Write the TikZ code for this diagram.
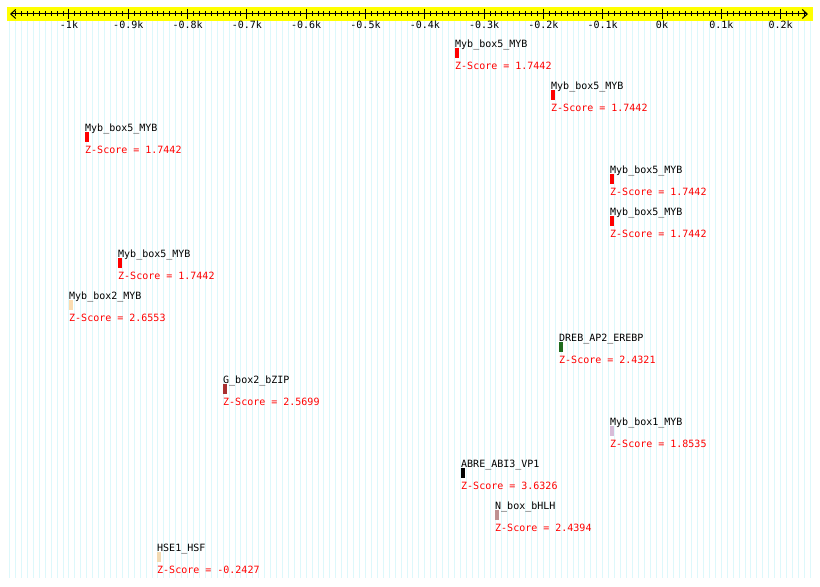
\documentclass[tikz,border=0pt]{standalone}
\usepackage{fontspec}
\setmonofont{DejaVu Sans Mono}
\usetikzlibrary{arrows.meta}
\definecolor{gridc}{HTML}{DDF8FB}
\definecolor{axisyellow}{HTML}{FFFF00}
\definecolor{zred}{HTML}{FF0000}
\definecolor{cMybfive}{HTML}{FF0000}
\definecolor{cMybtwo}{HTML}{FCDCB0}
\definecolor{cDREB}{HTML}{1E6B1E}
\definecolor{cGbox}{HTML}{A83030}
\definecolor{cMybone}{HTML}{D8BCD8}
\definecolor{cABRE}{HTML}{000000}
\definecolor{cNbox}{HTML}{C09090}
\definecolor{cHSE}{HTML}{F2DAB2}
\begin{document}
\begin{tikzpicture}[x=1bp,y=-1bp,
  txt/.style={inner sep=0pt, font=\ttfamily\fontsize{10bp}{12bp}\selectfont},
  lbl/.style={txt, anchor=base west},
  barbox/.style={inner sep=0pt, minimum width=4bp, minimum height=10bp, anchor=north west, draw=none},
  tickline/.style={line width=1bp, black}]
\useasboundingbox (0,0) rectangle (820,587);
\fill[white] (0,0) rectangle (820,587);
% background grid lines
\foreach \p in {-1100,-1090,...,250}
  \draw[gridc, line width=1bp] ({662+0.593*\p},21) -- ({662+0.593*\p},578);
% axis band
\fill[axisyellow] (7,7) rectangle (813,21);
\coordinate (al) at (10,14);
\coordinate (ar) at (808,14);
\draw[line width=1bp, {Straight Barb[length=5bp,width=9bp]}-{Straight Barb[length=5bp,width=9bp]}] (al) -- (ar);
\foreach \p in {-1090,-1080,...,240}
  \draw[tickline] ({662+0.593*\p},11.5) -- ({662+0.593*\p},16.5);
\foreach \p/\t in {-1000/-1k,-900/-0.9k,-800/-0.8k,-700/-0.7k,-600/-0.6k,-500/-0.5k,-400/-0.4k,-300/-0.3k,-200/-0.2k,-100/-0.1k,0/0k,100/0.1k,200/0.2k}{
  \draw[tickline] ({662+0.593*\p},9) -- ({662+0.593*\p},19);
  \node[txt, anchor=base] (t\p) at ({662+0.593*\p},28.5) {\t};
}
% motifs
\foreach [count=\i from 0] \xx/\nm/\cc/\zs in {
  455/Myb\_box5\_MYB/cMybfive/1.7442,
  551/Myb\_box5\_MYB/cMybfive/1.7442,
  85/Myb\_box5\_MYB/cMybfive/1.7442,
  610/Myb\_box5\_MYB/cMybfive/1.7442,
  610/Myb\_box5\_MYB/cMybfive/1.7442,
  118/Myb\_box5\_MYB/cMybfive/1.7442,
  69/Myb\_box2\_MYB/cMybtwo/2.6553,
  559/DREB\_AP2\_EREBP/cDREB/2.4321,
  223/G\_box2\_bZIP/cGbox/2.5699,
  610/Myb\_box1\_MYB/cMybone/1.8535,
  461/ABRE\_ABI3\_VP1/cABRE/3.6326,
  495/N\_box\_bHLH/cNbox/2.4394,
  157/HSE1\_HSF/cHSE/-0.2427}{
  \node[lbl] (name\i) at (\xx,{47.5+42*\i}) {\nm};
  \node[barbox, fill=\cc] (bar\i) at (\xx,{48+42*\i}) {};
  \node[lbl, text=zred] (score\i) at (\xx,{69.5+42*\i}) {Z-Score = \zs};
}
\end{tikzpicture}
\end{document}
